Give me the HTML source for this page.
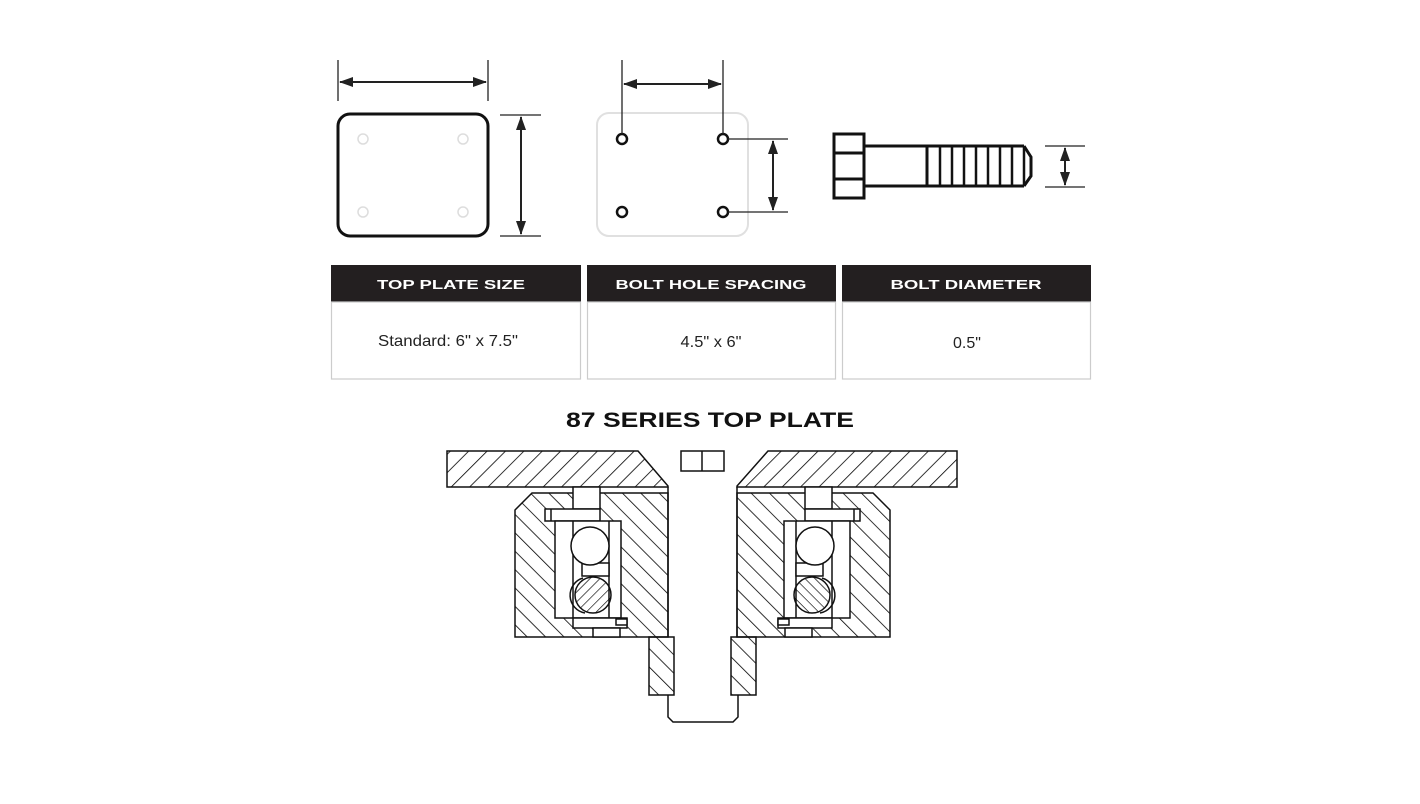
<!DOCTYPE html>
<html><head><meta charset="utf-8"><style>
html,body{margin:0;padding:0;background:#fff;}
body{width:1420px;height:799px;overflow:hidden;font-family:"Liberation Sans",sans-serif;}
</style></head><body>
<svg width="1420" height="799" viewBox="0 0 1420 799" xmlns="http://www.w3.org/2000/svg">
<defs>
<pattern id="hf" width="13" height="13" patternUnits="userSpaceOnUse" patternTransform="rotate(45)"><line x1="0" y1="0" x2="0" y2="13" stroke="#000" stroke-width="1.6"/></pattern>
<pattern id="hb" width="13" height="13" patternUnits="userSpaceOnUse" patternTransform="rotate(-45)"><line x1="0" y1="0" x2="0" y2="13" stroke="#000" stroke-width="1.6"/></pattern>
<pattern id="hs" width="7" height="7" patternUnits="userSpaceOnUse" patternTransform="rotate(45)"><line x1="0" y1="0" x2="0" y2="7" stroke="#000" stroke-width="1.3"/></pattern>
<marker id="ar" markerWidth="14" markerHeight="10" refX="13" refY="5" orient="auto-start-reverse" markerUnits="userSpaceOnUse"><path d="M0,0 L14,5 L0,10 Z" fill="#222"/></marker>
</defs>
<g stroke="#222" stroke-width="1.3" fill="none">
<rect x="338" y="114" width="150" height="122" rx="12" stroke="#111" stroke-width="3"/>
<g stroke="#ddd" stroke-width="1.5"><circle cx="363" cy="139" r="5"/><circle cx="463" cy="139" r="5"/><circle cx="363" cy="212" r="5"/><circle cx="463" cy="212" r="5"/></g>
<line x1="338" y1="60" x2="338" y2="101"/><line x1="488" y1="60" x2="488" y2="101"/>
<line x1="340" y1="82" x2="486" y2="82" stroke-width="2" marker-start="url(#ar)" marker-end="url(#ar)"/>
<line x1="500" y1="115" x2="541" y2="115"/><line x1="500" y1="236" x2="541" y2="236"/>
<line x1="521" y1="117" x2="521" y2="234" stroke-width="2" marker-start="url(#ar)" marker-end="url(#ar)"/>
<rect x="597" y="113" width="151" height="123" rx="12" stroke="#e0e0e0" stroke-width="2"/>
<g stroke="#111" stroke-width="2.5"><circle cx="622" cy="139" r="5"/><circle cx="723" cy="139" r="5"/><circle cx="622" cy="212" r="5"/><circle cx="723" cy="212" r="5"/></g>
<line x1="622" y1="60" x2="622" y2="134"/><line x1="723" y1="60" x2="723" y2="134"/>
<line x1="624" y1="84" x2="721" y2="84" stroke-width="2" marker-start="url(#ar)" marker-end="url(#ar)"/>
<line x1="728" y1="139" x2="788" y2="139"/><line x1="728" y1="212" x2="788" y2="212"/>
<line x1="773" y1="141" x2="773" y2="210" stroke-width="2" marker-start="url(#ar)" marker-end="url(#ar)"/>
<g stroke="#111" stroke-width="3">
<rect x="834" y="134" width="30" height="64"/><line x1="834" y1="153" x2="864" y2="153"/><line x1="834" y1="179" x2="864" y2="179"/>
<rect x="864" y="146" width="63" height="40"/>
<line x1="927" y1="146" x2="1024" y2="146"/><line x1="927" y1="186" x2="1024" y2="186"/>
<path d="M1024,146 L1031,157 L1031,176 L1024,186"/>
<g stroke-width="2.5"><line x1="940" y1="146" x2="940" y2="186"/><line x1="952" y1="146" x2="952" y2="186"/><line x1="964" y1="146" x2="964" y2="186"/><line x1="976" y1="146" x2="976" y2="186"/><line x1="988" y1="146" x2="988" y2="186"/><line x1="1000" y1="146" x2="1000" y2="186"/><line x1="1012" y1="146" x2="1012" y2="186"/><line x1="1024" y1="146" x2="1024" y2="186"/></g>
</g>
<line x1="1045" y1="146" x2="1085" y2="146"/><line x1="1045" y1="187" x2="1085" y2="187"/>
<line x1="1065" y1="148" x2="1065" y2="185" stroke-width="2" marker-start="url(#ar)" marker-end="url(#ar)"/>
</g>
<g font-family="'Liberation Sans',sans-serif">
<rect x="331" y="265" width="250" height="37" fill="#231f20"/>
<rect x="587" y="265" width="249" height="37" fill="#231f20"/>
<rect x="842" y="265" width="249" height="37" fill="#231f20"/>
<g fill="none" stroke="#ccc" stroke-width="1.2">
<rect x="331.5" y="302" width="249" height="77"/><rect x="587.5" y="302" width="248" height="77"/><rect x="842.5" y="302" width="248" height="77"/></g>
<g fill="#fff" font-weight="bold" font-size="13" text-anchor="middle" lengthAdjust="spacingAndGlyphs">
<text x="451" y="289" textLength="148" lengthAdjust="spacingAndGlyphs">TOP PLATE SIZE</text><text x="711" y="289" textLength="191" lengthAdjust="spacingAndGlyphs">BOLT HOLE SPACING</text><text x="966" y="289" textLength="151" lengthAdjust="spacingAndGlyphs">BOLT DIAMETER</text></g>
<g fill="#222" font-size="16" text-anchor="middle">
<text x="448" y="346" textLength="140" lengthAdjust="spacingAndGlyphs">Standard: 6" x 7.5"</text><text x="711" y="347" textLength="61" lengthAdjust="spacingAndGlyphs">4.5" x 6"</text><text x="967" y="348">0.5"</text></g>
<text x="710" y="427" text-anchor="middle" font-weight="bold" font-size="21" fill="#111" textLength="288" lengthAdjust="spacingAndGlyphs">87 SERIES TOP PLATE</text>
</g>
<g stroke="#111" stroke-width="1.5">
<path d="M447,451 L638,451 L668,486 L668,487 L447,487 Z" fill="url(#hf)"/>
<path d="M957,451 L768,451 L737,486 L737,487 L957,487 Z" fill="url(#hf)"/>
<rect x="681" y="451" width="43" height="20" fill="#fff"/><line x1="702" y1="451" x2="702" y2="471"/>
<path d="M532,493 L668,493 L668,637 L515,637 L515,510 Z" fill="url(#hb)"/>
<path d="M873,493 L737,493 L737,637 L890,637 L890,510 Z" fill="url(#hb)"/>
<rect x="649" y="637" width="25" height="58" fill="url(#hb)"/>
<rect x="731" y="637" width="25" height="58" fill="url(#hb)"/>
<path d="M668,695 L668,717 L673,722 L733,722 L738,717 L738,695" fill="none"/>
<line x1="668" y1="487" x2="668" y2="637"/><line x1="737" y1="487" x2="737" y2="637"/>
<g id="brg">
<rect x="573" y="487" width="27" height="22" fill="#fff"/>
<rect x="545" y="509" width="55" height="12" fill="#fff"/><line x1="551" y1="509" x2="551" y2="521"/>
<rect x="555" y="521" width="66" height="97" fill="#fff"/>
<line x1="573" y1="521" x2="573" y2="618"/><line x1="609" y1="521" x2="609" y2="618"/>
<rect x="582" y="563" width="27" height="13" fill="#fff"/>
<circle cx="590" cy="546" r="19" fill="#fff"/>
<path d="M583,578 A18,18 0 0 0 585,613" fill="none"/>
<circle cx="593" cy="595" r="18" fill="url(#hs)"/>
<rect x="573" y="618" width="54" height="10" fill="#fff"/><rect x="616" y="619" width="11" height="6" fill="#fff"/>
<rect x="593" y="628" width="27" height="9" fill="#fff"/>
</g>
<use href="#brg" transform="translate(1405,0) scale(-1,1)"/>
</g>
</svg>
</body></html>
